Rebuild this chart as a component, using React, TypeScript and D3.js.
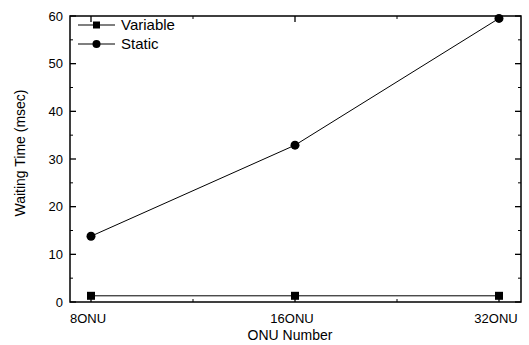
import React from "react";
import * as d3 from "d3";

const categories = ["8ONU", "16ONU", "32ONU"];
const variableValues = [1.3, 1.3, 1.3];
const staticValues = [13.8, 32.9, 59.5];
const yTicks = [0, 10, 20, 30, 40, 50, 60];
const seriesNames = ["Variable", "Static"];

export default function App() {
  const W = 529, H = 345;
  const left = 70, right = 521, top = 16, bottom = 302;
  const x = d3.scalePoint<string>().domain(categories).range([91, 499]);
  const y = d3.scaleLinear().domain([0, 60]).range([bottom, top]);
  const line = d3.line<number>().x((_, i) => x(categories[i])!).y((d) => y(d));
  const minorY = d3.range(5, 60, 10);
  const minorX = [(x(categories[0])! + x(categories[1])!) / 2, (x(categories[1])! + x(categories[2])!) / 2];
  const font = "Liberation Sans, Arial, sans-serif";
  return (
    <svg width={W} height={H} style={{ position: "absolute", left: 0, top: 0, background: "#fff" }} fontFamily={font}>
      <rect x={left} y={top} width={right - left} height={bottom - top} fill="none" stroke="#000" strokeWidth={1.5} />
      {yTicks.map((t) => (
        <g key={"y" + t}>
          <line x1={left} x2={left + 6} y1={y(t)} y2={y(t)} stroke="#000" strokeWidth={1.3} />
          <line x1={right} x2={right - 6} y1={y(t)} y2={y(t)} stroke="#000" strokeWidth={1.3} />
          <text x={left - 7} y={y(t)} dy="0.35em" textAnchor="end" fontSize={13}>{t}</text>
        </g>
      ))}
      {minorY.map((t) => (
        <g key={"my" + t}>
          <line x1={left} x2={left + 3} y1={y(t)} y2={y(t)} stroke="#000" strokeWidth={1} />
          <line x1={right} x2={right - 3} y1={y(t)} y2={y(t)} stroke="#000" strokeWidth={1} />
        </g>
      ))}
      {categories.map((c) => (
        <g key={"x" + c}>
          <line x1={x(c)} x2={x(c)} y1={bottom} y2={bottom - 6} stroke="#000" strokeWidth={1.3} />
          <line x1={x(c)} x2={x(c)} y1={top} y2={top + 6} stroke="#000" strokeWidth={1.3} />
          <text x={x(c)! - 3} y={bottom + 21} textAnchor="middle" fontSize={13}>{c}</text>
        </g>
      ))}
      {minorX.map((m, i) => (
        <g key={"mx" + i}>
          <line x1={m} x2={m} y1={bottom} y2={bottom - 3} stroke="#000" strokeWidth={1} />
          <line x1={m} x2={m} y1={top} y2={top + 3} stroke="#000" strokeWidth={1} />
        </g>
      ))}
      <path d={line(variableValues)!} fill="none" stroke="#000" strokeWidth={1} />
      <path d={line(staticValues)!} fill="none" stroke="#000" strokeWidth={1} />
      {variableValues.map((v, i) => (
        <rect key={"v" + i} x={x(categories[i])! - 4} y={y(v) - 4} width={8} height={8} fill="#000" />
      ))}
      {staticValues.map((v, i) => (
        <circle key={"s" + i} cx={x(categories[i])!} cy={y(v)} r={4.5} fill="#000" />
      ))}
      {seriesNames.map((n, i) => {
        const ly = 25 + i * 19;
        return (
          <g key={"l" + n}>
            <line x1={78} x2={115} y1={ly} y2={ly} stroke="#000" strokeWidth={1.2} />
            {i === 0 ? (
              <rect x={93} y={ly - 3.5} width={7} height={7} fill="#000" />
            ) : (
              <circle cx={96.5} cy={ly} r={4} fill="#000" />
            )}
            <text x={121} y={ly} dy="0.35em" fontSize={15}>{n}</text>
          </g>
        );
      })}
      <text x={290} y={340} textAnchor="middle" fontSize={14}>ONU Number</text>
      <text transform={`translate(25,153) rotate(-90)`} textAnchor="middle" fontSize={14}>Waiting Time (msec)</text>
    </svg>
  );
}
